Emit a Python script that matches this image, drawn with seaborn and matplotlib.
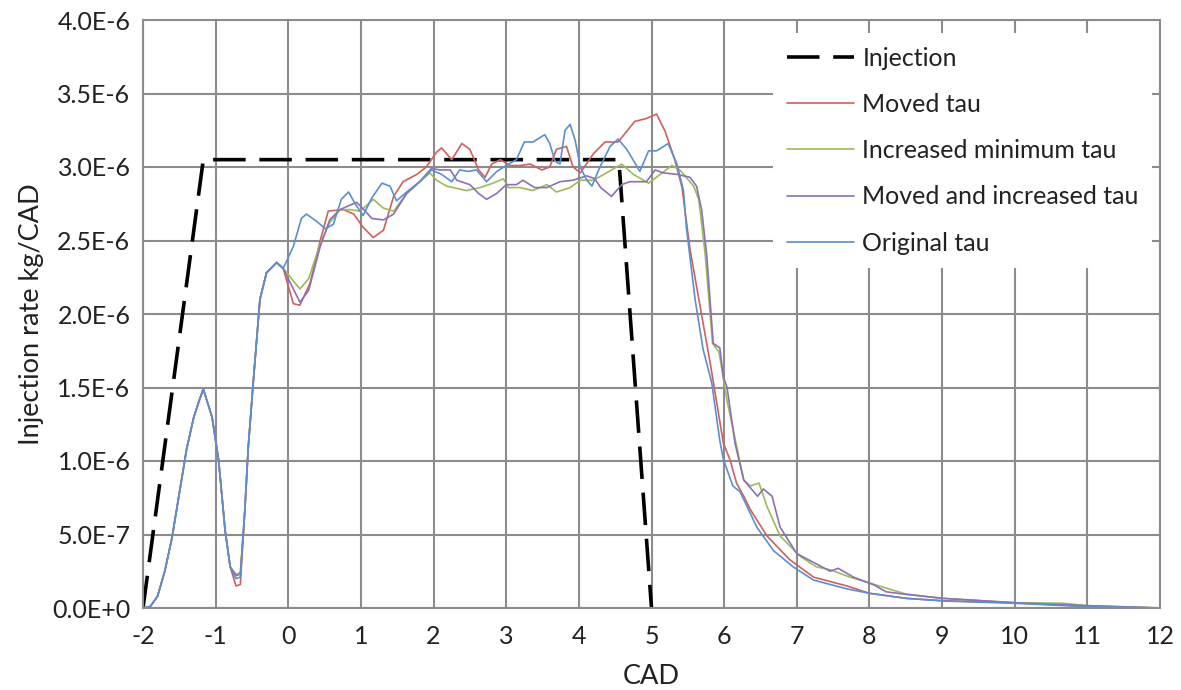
import matplotlib
matplotlib.use("Agg")
import matplotlib.pyplot as plt
import seaborn as sns
import pandas as pd
import numpy as np

SCALE = 1e-6  # values below are in units of 1e-6 kg/CAD

inj_x = [-2.0, -1.17, 4.55, 5.0]
inj_y = [0.0, 3.05, 3.05, 0.0]

# shared start of the four simulated curves
start_x = [-2.0, -1.9, -1.8, -1.7, -1.6, -1.5, -1.4, -1.3, -1.22, -1.17, -1.05, -0.96, -0.87, -0.80]
start_y = [0.0, 0.01, 0.08, 0.25, 0.48, 0.78, 1.08, 1.30, 1.42, 1.49, 1.30, 1.01, 0.53, 0.28]
rise_x = [-0.60, -0.55, -0.48, -0.39, -0.30, -0.16, -0.07]
rise_y = [0.65, 1.10, 1.55, 2.10, 2.28, 2.35, 2.31]

red_x = [-0.72, -0.66] + rise_x + [
    0.07, 0.16, 0.30, 0.44, 0.55, 0.76, 0.90, 1.03, 1.17, 1.31, 1.45, 1.58, 1.77, 1.90, 2.04,
    2.11, 2.25, 2.39, 2.50, 2.62, 2.71, 2.80, 2.92, 3.05, 3.19, 3.33, 3.49, 3.60, 3.69, 3.83,
    3.92, 4.02, 4.20, 4.36, 4.54, 4.77, 4.93, 5.07, 5.19, 5.32, 5.42, 5.53, 5.67, 5.81, 5.99,
    6.08, 6.17, 6.27, 6.36, 6.59, 6.90, 7.23, 7.69, 8.0, 8.5, 9.0, 10.0, 11.0, 12.0]
red_y = [0.15, 0.16] + rise_y + [
    2.07, 2.06, 2.21, 2.50, 2.70, 2.71, 2.68, 2.59, 2.52, 2.57, 2.80, 2.90, 2.95, 3.00, 3.10,
    3.13, 3.05, 3.16, 3.12, 2.98, 2.93, 3.02, 3.05, 3.01, 3.01, 3.02, 2.98, 3.00, 3.12, 3.14,
    3.00, 2.96, 3.09, 3.17, 3.17, 3.31, 3.33, 3.36, 3.24, 3.05, 2.86, 2.44, 2.05, 1.66, 1.12,
    1.01, 0.85, 0.76, 0.67, 0.49, 0.33, 0.21, 0.15, 0.10, 0.066, 0.05, 0.035, 0.012, 0.0]

green_x = [-0.72, -0.66] + rise_x + [
    0.16, 0.28, 0.44, 0.57, 0.71, 0.85, 0.99, 1.17, 1.31, 1.45, 1.63, 1.81, 1.95, 2.04, 2.18,
    2.27, 2.45, 2.64, 2.82, 2.96, 3.03, 3.19, 3.37, 3.56, 3.69, 3.88, 4.02, 4.20, 4.38, 4.59,
    4.75, 4.96, 5.12, 5.28, 5.39, 5.58, 5.65, 5.71, 5.74, 5.84, 5.93, 6.04, 6.27, 6.36, 6.48,
    6.59, 6.77, 7.05, 7.27, 7.46, 7.73, 8.0, 8.5, 9.0, 10.0, 10.67, 11.0, 12.0]
green_y = [0.23, 0.24] + rise_y + [
    2.17, 2.24, 2.48, 2.62, 2.71, 2.71, 2.70, 2.78, 2.72, 2.70, 2.82, 2.90, 2.96, 2.91, 2.87,
    2.86, 2.84, 2.86, 2.89, 2.92, 2.86, 2.86, 2.84, 2.88, 2.83, 2.86, 2.91, 2.91, 2.96, 3.02,
    2.95, 2.89, 2.95, 3.01, 2.98, 2.87, 2.78, 2.53, 2.40, 1.80, 1.74, 1.41, 0.87, 0.83, 0.85,
    0.69, 0.49, 0.35, 0.28, 0.26, 0.21, 0.17, 0.095, 0.066, 0.036, 0.032, 0.016, 0.0]

purple_x = [-0.72, -0.66] + rise_x + [
    0.16, 0.28, 0.44, 0.57, 0.71, 0.94, 1.06, 1.15, 1.31, 1.45, 1.63, 1.81, 1.97, 2.09, 2.23,
    2.32, 2.50, 2.62, 2.73, 2.87, 3.0, 3.14, 3.23, 3.39, 3.56, 3.74, 3.92, 4.11, 4.22, 4.30,
    4.45, 4.59, 4.70, 4.93, 5.05, 5.16, 5.35, 5.53, 5.62, 5.69, 5.76, 5.85, 5.94, 5.99, 6.04,
    6.15, 6.27, 6.41, 6.46, 6.54, 6.66, 6.77, 7.0, 7.27, 7.46, 7.57, 7.78, 8.05, 8.23, 8.5,
    9.0, 10.0, 11.0, 12.0]
purple_y = [0.22, 0.23] + rise_y + [
    2.08, 2.16, 2.46, 2.64, 2.71, 2.76, 2.70, 2.65, 2.64, 2.68, 2.82, 2.90, 2.99, 2.98, 2.98,
    2.91, 2.88, 2.82, 2.78, 2.82, 2.88, 2.88, 2.91, 2.86, 2.86, 2.90, 2.91, 2.94, 2.92, 2.86,
    2.80, 2.88, 2.90, 2.90, 2.98, 2.96, 2.95, 2.93, 2.87, 2.71, 2.40, 1.80, 1.77, 1.57, 1.50,
    1.12, 0.87, 0.79, 0.76, 0.81, 0.76, 0.55, 0.37, 0.30, 0.25, 0.27, 0.21, 0.16, 0.11, 0.093,
    0.066, 0.036, 0.016, 0.0]

blue_x = [-0.72, -0.66] + rise_x + [
    0.07, 0.18, 0.25, 0.39, 0.51, 0.62, 0.73, 0.83, 0.92, 1.03, 1.15, 1.29, 1.40, 1.49, 1.63,
    1.81, 1.97, 2.11, 2.25, 2.36, 2.48, 2.59, 2.73, 2.87, 3.0, 3.14, 3.25, 3.37, 3.53, 3.60,
    3.67, 3.74, 3.81, 3.88, 3.95, 4.02, 4.11, 4.18, 4.29, 4.43, 4.54, 4.66, 4.84, 4.96, 5.07,
    5.23, 5.35, 5.44, 5.48, 5.60, 5.71, 5.83, 5.94, 5.99, 6.12, 6.22, 6.45, 6.68, 6.95, 7.23,
    7.69, 8.0, 8.5, 9.0, 10.0, 11.0, 12.0]
blue_y = [0.20, 0.21] + rise_y + [
    2.46, 2.65, 2.68, 2.63, 2.58, 2.61, 2.78, 2.83, 2.75, 2.67, 2.79, 2.89, 2.87, 2.77, 2.83,
    2.90, 2.98, 2.95, 2.90, 2.98, 2.97, 2.98, 2.90, 2.97, 3.01, 3.05, 3.17, 3.17, 3.22, 3.16,
    3.04, 3.02, 3.25, 3.29, 3.18, 3.00, 2.91, 2.87, 3.00, 3.14, 3.19, 3.12, 2.97, 3.11, 3.11,
    3.16, 3.02, 2.84, 2.59, 2.10, 1.76, 1.53, 1.14, 1.01, 0.83, 0.79, 0.55, 0.39, 0.28, 0.19,
    0.13, 0.10, 0.066, 0.048, 0.032, 0.009, 0.0]

series_names = ["Injection", "Moved tau", "Increased minimum tau", "Moved and increased tau", "Original tau"]
series_colors = ["#000000", "#D0605E", "#9BBB59", "#8E6FB5", "#5B8FD0"]

x_ticks = list(range(-2, 13))
y_ticks = [0.0, 0.5, 1.0, 1.5, 2.0, 2.5, 3.0, 3.5, 4.0]
y_tick_labels = ["0.0E+0", "5.0E-7", "1.0E-6", "1.5E-6", "2.0E-6", "2.5E-6", "3.0E-6", "3.5E-6", "4.0E-6"]

sns.set_style("white")
plt.rcParams['font.family'] = ['Lato', 'DejaVu Sans']

all_x = [inj_x, start_x + red_x, start_x + green_x, start_x + purple_x, start_x + blue_x]
all_y = [inj_y, start_y + red_y, start_y + green_y, start_y + purple_y, start_y + blue_y]

fig = plt.figure(figsize=(11.81, 6.90), dpi=100)
ax = fig.add_axes([143 / 1181, 1 - 608 / 690, 1017 / 1181, 588 / 690])

for name, col, xs, ys in zip(series_names, series_colors, all_x, all_y):
    df = pd.DataFrame({"x": xs, "y": np.array(ys) * SCALE})
    if name == "Injection":
        sns.lineplot(data=df, x="x", y="y", ax=ax, sort=False, estimator=None,
                     color=col, linewidth=2.6, label=name)
        ax.lines[-1].set_dashes((9, 3.8))
    else:
        sns.lineplot(data=df, x="x", y="y", ax=ax, sort=False, estimator=None,
                     color=col, linewidth=1.2, label=name)

ax.set_xlim(-2, 12)
ax.set_ylim(0, 4.0e-6)
ax.set_xticks(x_ticks)
ax.set_xticklabels([str(t) for t in x_ticks])
ax.set_yticks([v * SCALE for v in y_ticks])
ax.set_yticklabels(y_tick_labels)
ax.set_axisbelow(True)
ax.grid(True, color="#8c8c8c", linewidth=1.5)
for s in ax.spines.values():
    s.set_color("#8c8c8c")
    s.set_linewidth(1.5)
ax.tick_params(axis="both", labelsize=18, colors="#8c8c8c", labelcolor="#222222",
               length=5, width=1.5, direction="out")
ax.tick_params(axis="x", pad=7)
ax.tick_params(axis="y", pad=4)
ax.set_xlabel("CAD", fontsize=19.5, color="#222222", labelpad=12)
ax.set_ylabel("Injection rate kg/CAD", fontsize=19.5, color="#222222", labelpad=6)

leg = ax.legend(loc="upper left", bbox_to_anchor=(0.6195, 0.978), borderaxespad=0,
                frameon=True, facecolor="white", edgecolor="none", framealpha=1,
                fontsize=18, labelspacing=0.93, handlelength=2.7, handletextpad=0.32,
                borderpad=0.55, fancybox=False)
for t in leg.get_texts():
    t.set_color("#222222")

fig.savefig("out.png", dpi=100)
